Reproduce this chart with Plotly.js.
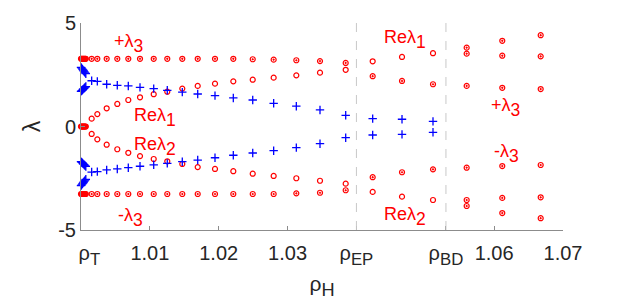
<!DOCTYPE html>
<html>
<head>
<meta charset="utf-8">
<script src="https://cdn.plot.ly/plotly-3.0.1.min.js"></script>
<style>html,body{margin:0;padding:0;background:#fff;}#chart{width:623px;height:301px;}</style>
</head>
<body>
<div id="chart"></div>
<script>
// ---- data ----
const rhoH = [1.00155, 1.00237, 1.00373, 1.00527, 1.00687, 1.00857, 1.01056, 1.01253, 1.01471, 1.01695, 1.01946, 1.02212, 1.02494, 1.02798, 1.03127, 1.03471, 1.03844, 1.04236, 1.04662, 1.05112, 1.05601, 1.06118, 1.06676];
const lam3Pos = [3.27, 3.27, 3.27, 3.27, 3.27, 3.27, 3.27, 3.27, 3.27, 3.27, 3.27, 3.27, 3.25, 3.23, 3.20, 3.16, 3.07, 2.43, 2.20, 2.04, 1.96, 1.87, 1.81];
const lam3Neg = [-3.26, -3.26, -3.26, -3.26, -3.26, -3.26, -3.26, -3.26, -3.26, -3.26, -3.26, -3.26, -3.26, -3.26, -3.23, -3.20, -3.08, -2.45, -2.21, -2.07, -1.99, -1.91, -1.86];
const re1 = [0.38, 0.60, 0.88, 1.09, 1.28, 1.41, 1.56, 1.68, 1.83, 1.96, 2.07, 2.18, 2.26, 2.36, 2.47, 2.60, 2.74, 3.15, 3.36, 3.54, null, null, null];
const re2 = [-0.36, -0.62, -0.88, -1.10, -1.27, -1.43, -1.57, -1.68, -1.81, -1.96, -2.05, -2.16, -2.28, -2.39, -2.50, -2.62, -2.76, -3.16, -3.39, -3.55, null, null, null];
const bdPos1 = [null, null, null, null, null, null, null, null, null, null, null, null, null, null, null, null, null, null, null, null, 3.52, 3.42, 3.39];
const bdPos2 = [null, null, null, null, null, null, null, null, null, null, null, null, null, null, null, null, null, null, null, null, 3.81, 4.14, 4.41];
const bdNeg1 = [null, null, null, null, null, null, null, null, null, null, null, null, null, null, null, null, null, null, null, null, -3.55, -3.45, -3.42];
const bdNeg2 = [null, null, null, null, null, null, null, null, null, null, null, null, null, null, null, null, null, null, null, null, -3.84, -4.18, -4.43];
const imPos = [2.21, 2.18, 2.04, 1.99, 1.96, 1.89, 1.83, 1.75, 1.66, 1.57, 1.49, 1.38, 1.28, 1.12, 0.98, 0.80, 0.54, 0.38, 0.35, 0.25, null, null, null];
const imNeg = [-2.20, -2.18, -2.10, -2.05, -1.99, -1.92, -1.85, -1.78, -1.70, -1.62, -1.51, -1.39, -1.28, -1.17, -1.02, -0.83, -0.54, -0.41, -0.38, -0.28, null, null, null];

// dense samples just above rho_T
const rhoNearT = [1.0000, 1.0001, 1.0002, 1.0003, 1.0004, 1.0005, 1.0006, 1.0007];
const lam3PosT = [3.27, 3.27, 3.27, 3.27, 3.27, 3.27, 3.27, 3.27];
const zeroT = [0, 0, 0, 0, 0, 0, 0, 0];
const lam3NegT = [-3.26, -3.26, -3.26, -3.26, -3.26, -3.26, -3.26, -3.26];
const imPosTa = [2.86, 2.82, 2.77, 2.73, 2.68, 2.64, 2.59, 2.55];
const imPosTb = [1.70, 1.73, 1.76, 1.80, 1.83, 1.86, 1.90, 1.93];
const imNegTa = [-1.70, -1.73, -1.76, -1.80, -1.83, -1.86, -1.90, -1.93];
const imNegTb = [-2.86, -2.82, -2.77, -2.73, -2.68, -2.64, -2.59, -2.55];

// main text in a span at the normal size; the <sub> part then renders at 70% of the larger base font
const MAIN = (s, px) => '<span style="font-size:' + px + 'px">' + s + '</span>';
const tickVals = [1.0, 1.01, 1.02, 1.03, 1.04, 1.053, 1.06, 1.07];
const tickText = [MAIN('\u00a0\u00a0\u00a0ρ', 20) + '<sub>T</sub>', MAIN('1.01', 20), MAIN('1.02', 20), MAIN('1.03', 20),
                  MAIN('ρ', 20) + '<sub>EP</sub>', MAIN('ρ', 20) + '<sub>BD</sub>', MAIN('1.06', 20), MAIN('1.07', 20)];
const rhoEP = 1.04, rhoBD = 1.053;

// ---- styles ----
const RED = '#ff0000', BLUE = '#0000ff';
const redOpen = {symbol: 'circle-open', size: 5, color: RED, line: {width: 1.2, color: RED}};
const redDot = {symbol: 'circle-open-dot', size: 5, color: RED, line: {width: 1.2, color: RED}};
const bluePlus = {symbol: 'cross-thin-open', size: 6, color: BLUE, line: {width: 1.3, color: BLUE}};

function pts(x, y, marker) {
  return {x: x, y: y, type: 'scatter', mode: 'markers', marker: marker, hoverinfo: 'skip', showlegend: false, cliponaxis: false};
}

const data = [
  pts(rhoH, lam3Pos, redDot),
  pts(rhoH, lam3Neg, redDot),
  pts(rhoH, re1, redOpen),
  pts(rhoH, re2, redOpen),
  pts(rhoH, bdPos1, redDot),
  pts(rhoH, bdPos2, redDot),
  pts(rhoH, bdNeg1, redDot),
  pts(rhoH, bdNeg2, redDot),
  pts(rhoH, imPos, bluePlus),
  pts(rhoH, imNeg, bluePlus),
  pts(rhoNearT, lam3PosT, redDot),
  pts(rhoNearT, zeroT, redDot),
  pts(rhoNearT, lam3NegT, redDot),
  pts(rhoNearT, imPosTa, bluePlus),
  pts(rhoNearT, imPosTb, bluePlus),
  pts(rhoNearT, imNegTa, bluePlus),
  pts(rhoNearT, imNegTb, bluePlus)
];

const FONT = 'Liberation Sans, Arial, Helvetica, sans-serif';
const labFont = {family: FONT, size: 25, color: RED};
function lab(x, y, main, sub) {
  return {x: x, y: y, xref: 'x', yref: 'y', text: MAIN(main, 18) + '<sub>' + sub + '</sub>', showarrow: false,
          xanchor: 'left', yanchor: 'middle', font: labFont, borderpad: 0};
}

const layout = {
  width: 623, height: 301,
  margin: {l: 81, r: 60, t: 23, b: 71},
  paper_bgcolor: '#ffffff', plot_bgcolor: '#ffffff',
  font: {family: FONT, size: 20, color: '#262626'},
  xaxis: {
    range: [1.0, 1.07], tickmode: 'array', tickvals: tickVals, ticktext: tickText,
    showgrid: false, zeroline: false, showline: true, linecolor: '#8c8c8c', linewidth: 1,
    ticks: 'inside', ticklen: 4, tickcolor: '#8c8c8c', tickfont: {size: 24, color: '#262626'},
    ticklabelstandoff: 0,
    title: {text: MAIN('ρ', 21) + '<sub>H</sub>', font: {size: 26, color: '#262626'}, standoff: 4}
  },
  xaxis2: {
    overlaying: 'x', matches: 'x', side: 'top', anchor: 'y', range: [1.0, 1.07],
    tickmode: 'array', tickvals: tickVals, showticklabels: false,
    showgrid: false, zeroline: false, showline: false,
    ticks: 'inside', ticklen: 4, tickcolor: '#8c8c8c'
  },
  yaxis: {
    range: [-5, 5], tickmode: 'array', tickvals: [-5, 0, 5], ticktext: ['-5', '0', '5'],
    showgrid: false, zeroline: false, showline: true, linecolor: '#8c8c8c', linewidth: 1,
    ticks: 'inside', ticklen: 4, tickcolor: '#8c8c8c', tickfont: {size: 20, color: '#262626'},
    title: {text: 'λ', font: {size: 23, color: '#262626'}, standoff: 11}
  },
  shapes: [
    {type: 'line', xref: 'x', yref: 'paper', x0: rhoEP, x1: rhoEP, y0: 0, y1: 1, line: {color: '#c8c8c8', width: 1, dash: 'dash'}},
    {type: 'line', xref: 'x', yref: 'paper', x0: rhoBD, x1: rhoBD, y0: 0, y1: 1, line: {color: '#c8c8c8', width: 1, dash: 'dash'}}
  ],
  annotations: [
    lab(1.0046, 4.00, '+λ', '3'),
    lab(1.0075, 0.45, 'Reλ', '1'),
    lab(1.0075, -0.95, 'Reλ', '2'),
    lab(1.0052, -4.40, '-λ', '3'),
    lab(1.0438, 4.20, 'Reλ', '1'),
    lab(1.0438, -4.35, 'Reλ', '2'),
    lab(1.0594, 0.90, '+λ', '3'),
    lab(1.0598, -1.30, '-λ', '3')
  ]
};

Plotly.newPlot('chart', data, layout, {staticPlot: true, displayModeBar: false});
</script>
</body>
</html>
